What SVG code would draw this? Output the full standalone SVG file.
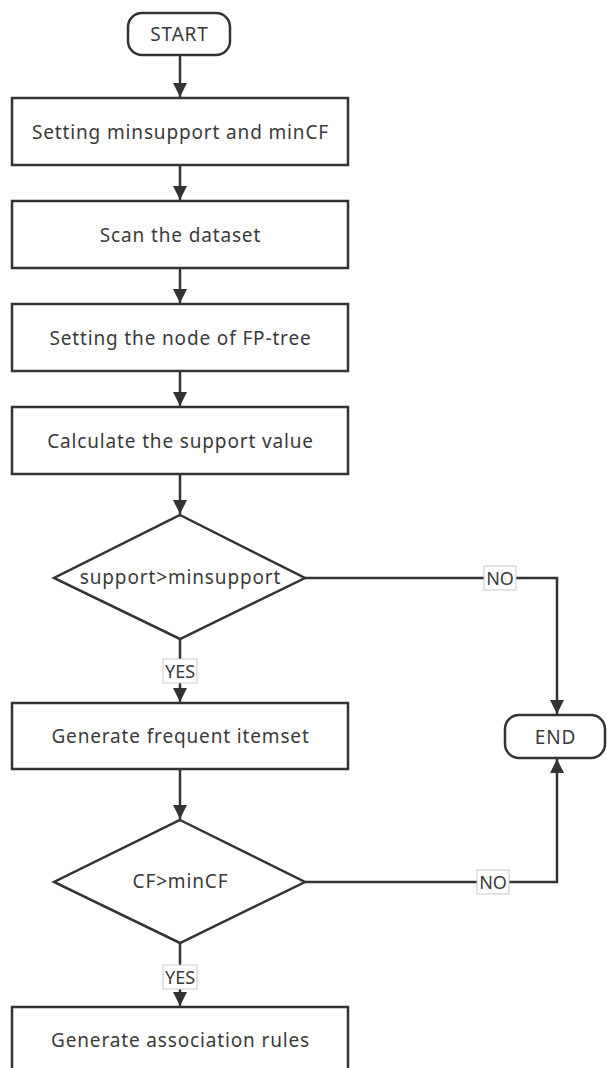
<svg xmlns="http://www.w3.org/2000/svg" width="607" height="1068" viewBox="0 0 607 1068">
<defs>
<style>
.shape{fill:#fff;stroke:#333;stroke-width:2.5}
.t{font-family:"Noto Sans","Open Sans",sans-serif;font-size:19px;fill:#3a3a3a;text-anchor:middle;dominant-baseline:central;letter-spacing:0.85px}
.l{font-family:"Noto Sans","Open Sans",sans-serif;font-size:18px;fill:#3a3a3a;text-anchor:middle;dominant-baseline:central}
.edge{fill:none;stroke:#333;stroke-width:2.5}
.lbl{fill:#fff;stroke:#c8c8c8;stroke-width:1}
</style>
<marker id="arr" viewBox="0 0 14 18" refX="14" refY="9" markerWidth="14" markerHeight="18" markerUnits="userSpaceOnUse" orient="auto">
<path d="M0,2 L14,9 L0,16 Z" fill="#333"/>
</marker>
</defs>
<rect width="607" height="1068" fill="#fff"/>
<g id="connectors">
<path class="edge" d="M180,55 V97" marker-end="url(#arr)"/>
<path class="edge" d="M180,165 V200" marker-end="url(#arr)"/>
<path class="edge" d="M180,268 V303" marker-end="url(#arr)"/>
<path class="edge" d="M180,371 V406" marker-end="url(#arr)"/>
<path class="edge" d="M180,474 V514" marker-end="url(#arr)"/>
<path class="edge" d="M180,639 V702" marker-end="url(#arr)"/>
<path class="edge" d="M180,769 V819" marker-end="url(#arr)"/>
<path class="edge" d="M180,943 V1006" marker-end="url(#arr)"/>
<path class="edge" d="M305,578 H557 V714" marker-end="url(#arr)"/>
<path class="edge" d="M305,882 H557 V759" marker-end="url(#arr)"/>
<g id="lbl-yes1"><rect class="lbl" x="163" y="659" width="34" height="24"/><text class="l" x="180" y="671">YES</text></g>
<g id="lbl-yes2"><rect class="lbl" x="163" y="965" width="34" height="24"/><text class="l" x="180" y="977">YES</text></g>
<g id="lbl-no1"><rect class="lbl" x="484" y="566" width="32" height="24"/><text class="l" x="500" y="578">NO</text></g>
<g id="lbl-no2"><rect class="lbl" x="477" y="870" width="32" height="24"/><text class="l" x="493" y="882">NO</text></g>
</g>
<g id="start"><rect class="shape" x="128" y="13" width="102" height="42" rx="14"/><text class="t" x="179.5" y="34">START</text></g>
<g id="n1"><rect class="shape" x="12" y="98" width="336" height="67"/><text class="t" x="180.5" y="131.5">Setting minsupport and minCF</text></g>
<g id="n2"><rect class="shape" x="12" y="201" width="336" height="67"/><text class="t" x="180.5" y="234.5">Scan the dataset</text></g>
<g id="n3"><rect class="shape" x="12" y="304" width="336" height="67"/><text class="t" x="180.5" y="337.5">Setting the node of FP-tree</text></g>
<g id="n4"><rect class="shape" x="12" y="407" width="336" height="67"/><text class="t" x="180.5" y="440.5">Calculate the support value</text></g>
<g id="d1"><polygon class="shape" points="180,515 305,578 180,639 54,578"/><text class="t" x="180.5" y="577">support&gt;minsupport</text></g>
<g id="n5"><rect class="shape" x="12" y="703" width="336" height="66"/><text class="t" x="180.5" y="736">Generate frequent itemset</text></g>
<g id="d2"><polygon class="shape" points="180,820 305,882 180,943 54,882"/><text class="t" x="180.5" y="881">CF&gt;minCF</text></g>
<g id="n6"><rect class="shape" x="12" y="1007" width="336" height="67"/><text class="t" x="180.5" y="1040">Generate association rules</text></g>
<g id="end"><rect class="shape" x="505" y="715" width="100" height="43" rx="14"/><text class="t" x="555.5" y="736.5">END</text></g>
</svg>
